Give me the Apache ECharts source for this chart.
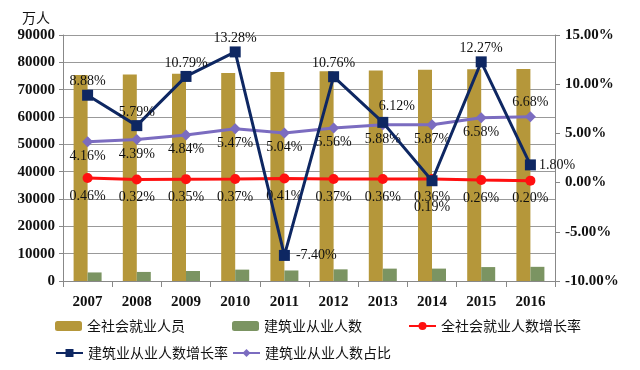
<!DOCTYPE html>
<html>
<head>
<meta charset="utf-8">
<script src="https://cdn.jsdelivr.net/npm/echarts@6/dist/echarts.min.js"></script>
<style>html,body{margin:0;padding:0;background:#fff;}#c{width:640px;height:370px;}</style>
</head>
<body>
<div id="c"></div>
<script>
var years = ['2007','2008','2009','2010','2011','2012','2013','2014','2015','2016'];
var totalEmployed = [75321, 75564, 75828, 76105, 76420, 76704, 76977, 77253, 77451, 77603];
var constructionEmployed = [3133, 3317, 3670, 4163, 3852, 4265, 4526, 4535, 5096, 5184];
var totalGrowth = [0.46, 0.32, 0.35, 0.37, 0.41, 0.37, 0.36, 0.36, 0.26, 0.20];
var constructionGrowth = [8.88, 5.79, 10.79, 13.28, -7.40, 10.76, 6.12, 0.19, 12.27, 1.80];
var constructionShare = [4.16, 4.39, 4.84, 5.47, 5.04, 5.56, 5.88, 5.87, 6.58, 6.68];
var leftTicks = [0, 90000, 10000];
var rightTicks = [-10, 15, 5];

var serif = '"Liberation Serif", "Times New Roman", serif';
var cjk = '"Noto Sans CJK SC", sans-serif';
var pct = function (v) { return v.toFixed(2) + '%'; };

var growthLabelPos = {4: {position: 'right', distance: 6}, 6: {position: 'top', offset: [14, 0], distance: 4}, 7: {position: 'bottom', distance: 14}, 9: {position: 'right', distance: 3}};
var shareLabelPos = {9: {position: 'top', distance: 2}};

function withLabels(vals, posMap) {
  return vals.map(function (v, i) {
    var o = {value: v};
    if (posMap[i]) o.label = posMap[i];
    return o;
  });
}

var C = {gold: '#B5973A', green: '#7B9462', red: '#FF1010', navy: '#0E2762', purple: '#7B6CC0'};
var labelBase = {show: true, color: '#111', fontFamily: serif, fontSize: 14, formatter: function (p) { return pct(p.value); }};

function legend(name, left, top) {
  return {data: [name], left: left, top: top, itemWidth: 27, itemHeight: 10, itemGap: 0,
    textStyle: {fontFamily: cjk, fontSize: 14, color: '#111'}, padding: 0};
}

var chart = echarts.init(document.getElementById('c'));
chart.setOption({
  animation: false,
  backgroundColor: '#fff',
  grid: {left: 63, right: 85, top: 35, bottom: 89},
  legend: [
    legend('全社会就业人员', 55, 319),
    legend('建筑业从业人数', 232, 319),
    legend('全社会就业人数增长率', 408, 319),
    legend('建筑业从业人数增长率', 55, 346),
    legend('建筑业从业人数占比', 232, 346)
  ],
  xAxis: {
    type: 'category', data: years,
    axisLine: {lineStyle: {color: '#888'}},
    axisTick: {show: true, length: 6, lineStyle: {color: '#888'}},
    axisLabel: {fontFamily: serif, fontWeight: 'bold', fontSize: 15, color: '#111', margin: 14}
  },
  yAxis: [{
    type: 'value', min: leftTicks[0], max: leftTicks[1], interval: leftTicks[2],
    name: '万人', nameGap: 10, nameTextStyle: {fontFamily: cjk, fontSize: 14, color: '#111', align: 'right', padding: [0, 13, 0, 0]},
    axisLine: {show: true, lineStyle: {color: '#888'}},
    axisTick: {show: true, length: 4, lineStyle: {color: '#888'}},
    axisLabel: {fontFamily: serif, fontWeight: 'bold', fontSize: 15, color: '#111', margin: 8, formatter: function (v) { return String(v); }},
    splitLine: {lineStyle: {color: '#999', width: 1}}
  }, {
    type: 'value', min: rightTicks[0], max: rightTicks[1], interval: rightTicks[2], position: 'right',
    axisLine: {show: true, lineStyle: {color: '#888'}},
    axisTick: {show: true, length: 5, lineStyle: {color: '#888'}},
    axisLabel: {fontFamily: serif, fontWeight: 'bold', fontSize: 15, color: '#111', margin: 10, formatter: pct},
    splitLine: {show: false}
  }],
  series: [{
    name: '全社会就业人员', type: 'bar', data: totalEmployed, barWidth: 14, barGap: '0%',
    itemStyle: {color: C.gold}
  }, {
    name: '建筑业从业人数', type: 'bar', data: constructionEmployed, barWidth: 14, barGap: '0%',
    itemStyle: {color: C.green}
  }, {
    name: '全社会就业人数增长率', type: 'line', yAxisIndex: 1, data: totalGrowth,
    symbol: 'circle', symbolSize: 10, lineStyle: {color: C.red, width: 3}, itemStyle: {color: C.red},
    label: Object.assign({}, labelBase, {position: 'bottom', distance: 6})
  }, {
    name: '建筑业从业人数增长率', type: 'line', yAxisIndex: 1, data: withLabels(constructionGrowth, growthLabelPos),
    symbol: 'rect', symbolSize: 11, lineStyle: {color: C.navy, width: 3}, itemStyle: {color: C.navy},
    label: Object.assign({}, labelBase, {position: 'top', distance: 1}), z: 4
  }, {
    name: '建筑业从业人数占比', type: 'line', yAxisIndex: 1, data: withLabels(constructionShare, shareLabelPos),
    symbol: 'diamond', symbolSize: 11, lineStyle: {color: C.purple, width: 3}, itemStyle: {color: C.purple},
    label: Object.assign({}, labelBase, {position: 'bottom', distance: 2})
  }]
});
</script>
</body>
</html>
